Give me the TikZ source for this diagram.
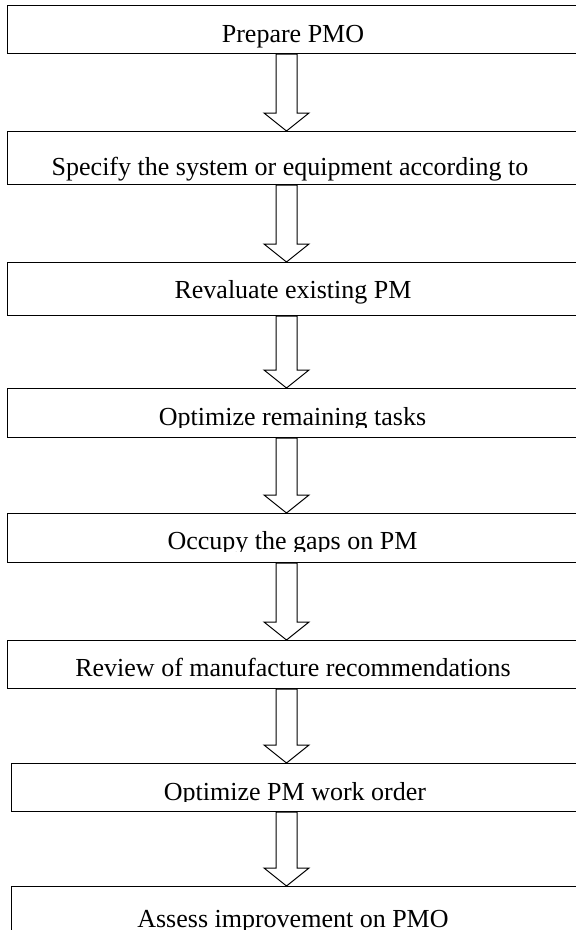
\documentclass[tikz,border=0pt]{standalone}
\usepackage{fontspec}
\setmainfont{Liberation Serif}
\usetikzlibrary{calc}
\tikzset{
  stepbox/.style={draw=black, line width=1.2pt, fill=white, rectangle, inner sep=0pt,
    minimum width=572pt, anchor=north west},
  steptext/.style={anchor=base, inner sep=0pt, font=\fontsize{26}{30}\selectfont},
  blockarrow/.style={draw=black, line width=1pt, fill=white, line join=miter}
}
\newcommand\flowarrow[2]{%
  \draw[blockarrow] let \p1=(ax |- #1.south), \p2=(ax |- #2.north) in
    (\x1-10.5pt,\y1) -- (\x1-10.5pt,\y2+18pt) -- (\x1-22.5pt,\y2+18pt) -- (\x1,\y2)
    -- (\x1+22.5pt,\y2+18pt) -- (\x1+10.5pt,\y2+18pt) -- (\x1+10.5pt,\y1) -- cycle;}
\begin{document}
\begin{tikzpicture}[x=1pt,y=-1pt]
\clip (0,0) rectangle (576,930);
\fill[white] (0,0) rectangle (576,930);
\coordinate (ax) at (286.5,0);
% boxes
\node[stepbox, minimum height=48pt] (b1) at (7,5) {};
\node[stepbox, minimum height=53pt] (b2) at (7,131) {};
\node[stepbox, minimum height=53pt] (b3) at (7,262) {};
\node[stepbox, minimum height=49pt] (b4) at (7,388) {};
\node[stepbox, minimum height=49pt] (b5) at (7,513) {};
\node[stepbox, minimum height=48pt] (b6) at (7,640) {};
\node[stepbox, minimum height=48pt] (b7) at (10.5,763) {};
\node[stepbox, minimum height=70pt] (b8) at (10.5,886) {};
% texts
\node[steptext] (t1) at (293,42) {Prepare PMO};
\node[steptext] (t2) at (290,175) {Specify the system or equipment according to};
\node[steptext] (t3) at (293,298) {Revaluate existing PM};
\begin{scope}
  \clip (0,390) rectangle (576,427.5);
  \node[steptext] (t4) at (292.5,425) {Optimize remaining tasks};
\end{scope}
\begin{scope}
  \clip (0,515) rectangle (576,551);
  \node[steptext] (t5) at (292.5,549) {Occupy the gaps on PM};
\end{scope}
\node[steptext] (t6) at (293,676) {Review of manufacture recommendations};
\begin{scope}
  \clip (0,765) rectangle (576,801.5);
  \node[steptext] (t7) at (295,800) {Optimize PM work order};
\end{scope}
\node[steptext] (t8) at (293,927) {Assess improvement on PMO};
% arrows
\flowarrow{b1}{b2}
\flowarrow{b2}{b3}
\flowarrow{b3}{b4}
\flowarrow{b4}{b5}
\flowarrow{b5}{b6}
\flowarrow{b6}{b7}
\flowarrow{b7}{b8}
\end{tikzpicture}
\end{document}
